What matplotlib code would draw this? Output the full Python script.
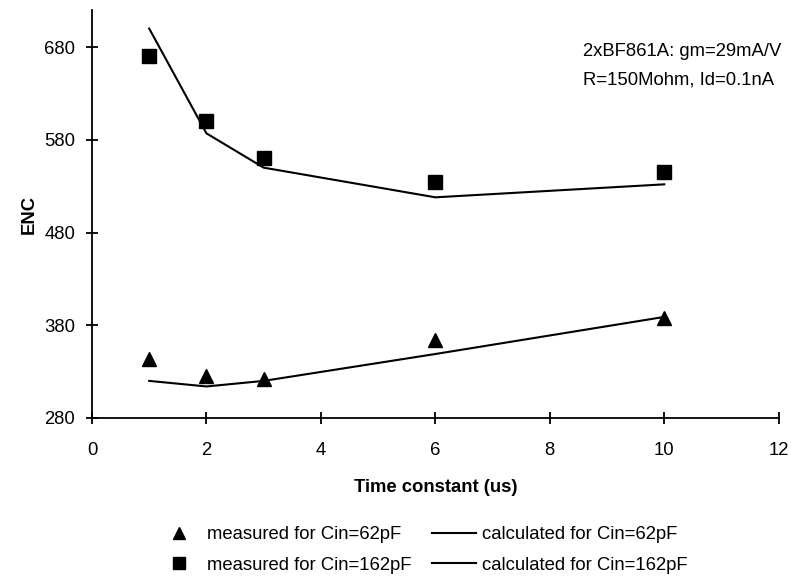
import matplotlib
matplotlib.use("Agg")
import matplotlib.pyplot as plt
from matplotlib.lines import Line2D

plt.rcParams['font.family'] = ['Liberation Sans', 'DejaVu Sans']

# Shaping time constants (us)
tau = [1, 2, 3, 6, 10]

# Measured ENC
meas_62 = [344, 325, 322, 364, 388]
meas_162 = [670, 600, 560, 535, 545]

# Calculated ENC
calc_62 = [320, 314, 320, 349, 389]
calc_162 = [700, 587, 550, 518, 532]

xticks = [0, 2, 4, 6, 8, 10, 12]
yticks = [280, 380, 480, 580, 680]

FS = 13.3

fig = plt.figure(figsize=(7.91, 5.77), dpi=100)
ax = fig.add_axes([0.1163, 0.2756, 0.8682, 0.707])

ax.plot(tau, calc_62, color='black', lw=1.5)
ax.plot(tau, calc_162, color='black', lw=1.5)
ax.plot(tau, meas_62, linestyle='none', marker='^', color='black', markersize=10)
ax.plot(tau, meas_162, linestyle='none', marker='s', color='black', markersize=9.5)

ax.set_xlim(0, 12)
ax.set_ylim(280, 720)
ax.set_xticks(xticks)
ax.set_yticks(yticks)
ax.tick_params(direction='inout', length=8, width=1.3, labelsize=FS, colors='black')
ax.tick_params(axis='x', pad=13)
ax.tick_params(axis='y', pad=8)
for s in ['top', 'right']:
    ax.spines[s].set_visible(False)
for s in ['left', 'bottom']:
    ax.spines[s].set_linewidth(1.3)

ax.set_xlabel('Time constant (us)', fontsize=FS, fontweight='bold', labelpad=15)
ax.set_ylabel('ENC', fontsize=FS, fontweight='bold', labelpad=5)

# Circuit parameters note
ax.text(0.7145, 0.8995, '2xBF861A: gm=29mA/V',
        transform=ax.transAxes, fontsize=FS, va='center', ha='left')
ax.text(0.7145, 0.8284, 'R=150Mohm, Id=0.1nA',
        transform=ax.transAxes, fontsize=FS, va='center', ha='left')

handles = [
    Line2D([], [], linestyle='none', marker='^', color='black', markersize=9),
    Line2D([], [], linestyle='none', marker='s', color='black', markersize=8.5),
    Line2D([], [], color='black', lw=1.5),
    Line2D([], [], color='black', lw=1.5),
]
labels = ['measured for Cin=62pF', 'measured for Cin=162pF',
          'calculated for Cin=62pF', 'calculated for Cin=162pF']
fig.legend(handles, labels, ncol=2, loc='center left',
           bbox_to_anchor=(157 / 791, 1 - 550 / 577),
           frameon=False, fontsize=FS, handlelength=2.38, handletextpad=0.3,
           columnspacing=1.15, labelspacing=0.71, borderpad=0, borderaxespad=0)

fig.savefig('out.png', dpi=100)
